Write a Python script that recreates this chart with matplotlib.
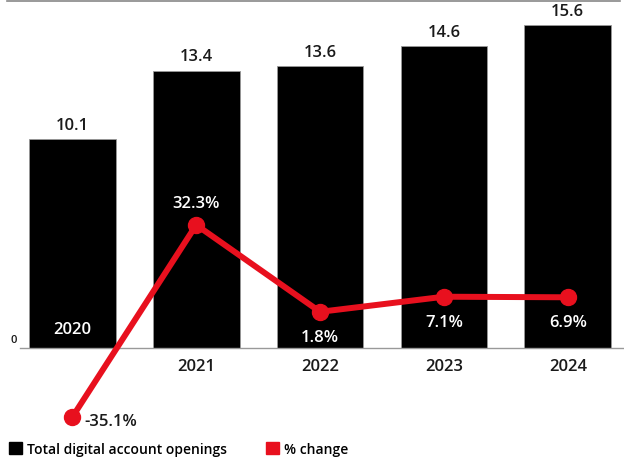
import numpy as np
import matplotlib.pyplot as plt
from matplotlib.lines import Line2D
from matplotlib.patches import Patch

plt.rcParams['font.family'] = ['Open Sans', 'DejaVu Sans']

years = ["2020", "2021", "2022", "2023", "2024"]
openings = [10.1, 13.4, 13.6, 14.6, 15.6]
pct_change = [-35.1, 32.3, 1.8, 7.1, 6.9]
pct_labels = ["-35.1%", "32.3%", "1.8%", "7.1%", "6.9%"]

ROUGE = '#e8101e'
TXT = '#1a1a1a'
x = np.arange(len(years))

fig = plt.figure(figsize=(6.24, 4.64), dpi=100)
ax = fig.add_axes([20 / 624, 115 / 464, 604 / 624, 349 / 464])

ax.bar(x, openings, width=0.70, color='black', edgecolor='#999999', linewidth=0.6, zorder=2)
ax.set_xlim(-0.423, 4.454)
ax.set_ylim(0, 16.86)

for s in ['top', 'right', 'left']:
    ax.spines[s].set_visible(False)
ax.spines['bottom'].set_color('#999999')
ax.spines['bottom'].set_linewidth(1)
ax.set_xticks([])
ax.set_yticks([])

# valeurs au-dessus des barres
for i, v in enumerate(openings):
    ax.text(x[i], v + 0.3, f"{v}", ha='center', va='bottom', fontsize=12,
            fontweight='semibold', color=TXT)

# années : 2020 dans la barre, les autres sous l'axe
ax.text(x[0], 0.9, years[0], ha='center', va='center', color='white',
        fontsize=12, fontweight='semibold')
for i in range(1, len(years)):
    ax.text(x[i], -0.85, years[i], ha='center', va='center', color=TXT,
            fontsize=12, fontweight='semibold', clip_on=False)

ax.text(-0.45, 0.15, "0", ha='right', va='bottom', fontsize=8, fontweight='semibold',
        color=TXT, clip_on=False)

# courbe des % de variation
ax2 = ax.twinx()
ax2.set_ylim(-10.9, 111.6)
ax2.axis('off')
ax2.plot(x, pct_change, color=ROUGE, linewidth=4.3, marker='o', markersize=11.5,
         clip_on=False, zorder=3, solid_capstyle='round')

ax2.text(x[0] + 0.1, pct_change[0] - 1.5, pct_labels[0], ha='left', va='center',
         fontsize=12, fontweight='semibold', color=TXT, clip_on=False)
ax2.text(x[1], pct_change[1] + 5, pct_labels[1], ha='center', va='bottom',
         fontsize=12, fontweight='semibold', color='white')
for i in range(2, len(years)):
    ax2.text(x[i], pct_change[i] - 6, pct_labels[i], ha='center', va='top',
             fontsize=12, fontweight='semibold', color='white')

# ligne grise en haut
fig.add_artist(Line2D([7 / 624, 620 / 624], [1 - 1.5 / 464, 1 - 1.5 / 464],
                      color='#888888', linewidth=1.2))

handles = [Patch(color='black', label='Total digital account openings'),
           Patch(color=ROUGE, label='% change')]
fig.legend(handles=handles, loc='lower left', bbox_to_anchor=(-0.006, -0.012), ncol=2,
           frameon=False, handlelength=0.95, handleheight=0.95,
           handletextpad=0.35, columnspacing=2.8,
           prop={'weight': 'semibold', 'size': 10})

fig.savefig('out.png', dpi=100)
